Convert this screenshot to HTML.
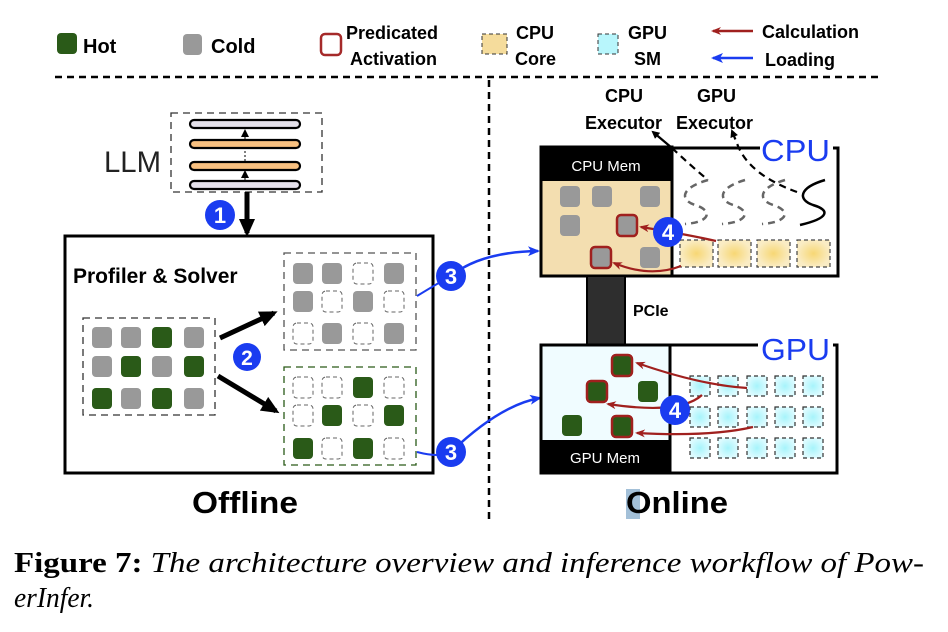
<!DOCTYPE html>
<html><head><meta charset="utf-8"><style>
html,body{margin:0;padding:0;background:#fff;}
svg{display:block;}
.b{font-family:"Liberation Sans",sans-serif;font-weight:bold;}
</style></head><body>
<svg width="948" height="632" viewBox="0 0 948 632" xmlns="http://www.w3.org/2000/svg">
<defs>
<marker id="ak" markerWidth="8" markerHeight="8" refX="6" refY="4" orient="auto" markerUnits="userSpaceOnUse"><path d="M0,0 L8,4 L0,8 Z" fill="#000"/></marker>
<marker id="akb" markerWidth="18" markerHeight="16" refX="14" refY="8" orient="auto" markerUnits="userSpaceOnUse"><path d="M0,0 L18,8 L0,16 Z" fill="#000"/></marker>
<marker id="ar" markerWidth="10" markerHeight="8" refX="8" refY="4" orient="auto" markerUnits="userSpaceOnUse"><path d="M0,0 L10,4 L0,8 L3,4 Z" fill="#a0201e"/></marker>
<marker id="ab" markerWidth="12" markerHeight="10" refX="10" refY="5" orient="auto" markerUnits="userSpaceOnUse"><path d="M0,0 L12,5 L0,10 L3,5 Z" fill="#1a3cf0"/></marker>
<radialGradient id="gy"><stop offset="0" stop-color="#f7d774"/><stop offset="1" stop-color="#faecc4"/></radialGradient>
<radialGradient id="gc"><stop offset="0" stop-color="#a6f4fb"/><stop offset="1" stop-color="#dcfbff"/></radialGradient>
</defs>

<!-- legend -->
<rect x="57" y="33" width="20" height="21" rx="4" fill="#2a5a18"/>
<text x="83" y="53" class="b" font-size="20">Hot</text>
<rect x="183" y="34" width="19" height="21" rx="4" fill="#999"/>
<text x="211" y="53" class="b" font-size="20">Cold</text>
<rect x="321" y="34" width="20" height="21" rx="4" fill="#fff" stroke="#a52a2a" stroke-width="2.5"/>
<text x="346" y="39" class="b" font-size="18">Predicated</text>
<text x="350" y="65" class="b" font-size="18">Activation</text>
<rect x="482" y="34" width="25" height="20" fill="#f5dc9c" stroke="#333" stroke-dasharray="4,3"/>
<text x="516" y="39" class="b" font-size="18">CPU</text>
<text x="515" y="65" class="b" font-size="18">Core</text>
<rect x="598" y="34" width="20" height="20" fill="#b8f6fc" stroke="#333" stroke-dasharray="4,3"/>
<text x="628" y="39" class="b" font-size="18">GPU</text>
<text x="634" y="65" class="b" font-size="18">SM</text>
<line x1="753" y1="31" x2="713" y2="31" stroke="#a0201e" stroke-width="2.5" marker-end="url(#ar)"/>
<text x="762" y="38" class="b" font-size="18">Calculation</text>
<line x1="753" y1="58" x2="713" y2="58" stroke="#1a3cf0" stroke-width="2.5" marker-end="url(#ab)"/>
<text x="765" y="66" class="b" font-size="18">Loading</text>

<line x1="55" y1="77" x2="882" y2="77" stroke="#000" stroke-width="2.5" stroke-dasharray="7,5"/>
<line x1="489" y1="80" x2="489" y2="522" stroke="#000" stroke-width="2.5" stroke-dasharray="7,5"/>

<!-- LLM -->
<text x="104" y="172" font-family="Liberation Sans,sans-serif" font-size="30" fill="#222" textLength="57" lengthAdjust="spacingAndGlyphs">LLM</text>
<rect x="171" y="113" width="151" height="79" fill="none" stroke="#333" stroke-dasharray="7,5" stroke-width="1.3"/>
<rect x="190" y="120" width="110" height="8" rx="4" fill="#e4e0ea" stroke="#000" stroke-width="2.2"/>
<rect x="190" y="140" width="110" height="8" rx="4" fill="#f8c080" stroke="#000" stroke-width="2.2"/>
<rect x="190" y="162" width="110" height="8" rx="4" fill="#f8c080" stroke="#000" stroke-width="2.2"/>
<rect x="190" y="181" width="110" height="8" rx="4" fill="#e4e0ea" stroke="#000" stroke-width="2.2"/>
<line x1="245" y1="140" x2="245" y2="131" stroke="#000" stroke-width="1" marker-end="url(#ak)"/>
<line x1="245" y1="161" x2="245" y2="151" stroke="#000" stroke-width="1" stroke-dasharray="2,2"/>
<line x1="245" y1="180" x2="245" y2="172" stroke="#000" stroke-width="1" marker-end="url(#ak)"/>
<line x1="247" y1="192" x2="247" y2="233" stroke="#000" stroke-width="5" marker-end="url(#akb)"/>
<circle cx="220" cy="215" r="15" fill="#1a3cf0"/><text x="220" y="223" text-anchor="middle" class="b" font-size="22" fill="#fff">1</text>

<!-- Profiler -->
<rect x="65" y="236" width="368" height="237" fill="none" stroke="#000" stroke-width="3"/>
<text x="73" y="283" class="b" font-size="21">Profiler &amp; Solver</text>
<rect x="83" y="318" width="132" height="97" fill="none" stroke="#333" stroke-dasharray="7,5" stroke-width="1.3"/>
<rect x="284" y="253" width="132" height="97" fill="none" stroke="#555" stroke-dasharray="7,5" stroke-width="1.3"/>
<rect x="284" y="367" width="132" height="98" fill="none" stroke="#2a5a18" stroke-dasharray="7,5" stroke-width="1.3"/>
<line x1="220" y1="338" x2="274" y2="313" stroke="#000" stroke-width="5" marker-end="url(#akb)"/>
<line x1="218" y1="376" x2="276" y2="411" stroke="#000" stroke-width="5" marker-end="url(#akb)"/>
<circle cx="247" cy="357" r="14" fill="#1a3cf0"/><text x="247" y="365" text-anchor="middle" class="b" font-size="21" fill="#fff">2</text>

<!-- blue loading -->
<path d="M417,296 Q440,282 451,276" stroke="#1a3cf0" stroke-width="2" fill="none"/>
<path d="M451,276 Q480,252 538,251" stroke="#1a3cf0" stroke-width="2.5" fill="none" marker-end="url(#ab)"/>
<path d="M417,452 Q440,458 451,452" stroke="#1a3cf0" stroke-width="2" fill="none"/>
<path d="M451,452 Q500,405 540,398" stroke="#1a3cf0" stroke-width="2.5" fill="none" marker-end="url(#ab)"/>
<circle cx="451" cy="276" r="15" fill="#1a3cf0"/><text x="451" y="284" text-anchor="middle" class="b" font-size="22" fill="#fff">3</text>
<circle cx="451" cy="452" r="15" fill="#1a3cf0"/><text x="451" y="460" text-anchor="middle" class="b" font-size="22" fill="#fff">3</text>

<!-- Executors -->
<text x="605" y="102" class="b" font-size="18">CPU</text>
<text x="697" y="102" class="b" font-size="18">GPU</text>
<text x="585" y="129" class="b" font-size="18">Executor</text>
<text x="676" y="129" class="b" font-size="18">Executor</text>

<!-- CPU right box -->
<path d="M672,148 L760,148 M833,148 L838,148 L838,276 L672,276" stroke="#000" stroke-width="3" fill="none"/>
<text x="761" y="161" font-family="Liberation Sans,sans-serif" font-size="31" fill="#1a3cf0" textLength="69" lengthAdjust="spacingAndGlyphs">CPU</text>
<path d="M672,148 Q690,165 708,180" stroke="#000" stroke-width="2.2" stroke-dasharray="7,5" fill="none"/>
<line x1="672" y1="148" x2="653" y2="132" stroke="#000" stroke-width="2.2" marker-end="url(#ak)"/>
<path d="M797,192 Q750,175 738,146 L732,131" stroke="#000" stroke-width="2.2" stroke-dasharray="7,5" fill="none" marker-end="url(#ak)"/>
<g fill="none" stroke="#666" stroke-width="2.5" stroke-dasharray="7,5">
<path d="M708,180 C680,188 680,200 695,205 C712,210 712,222 685,224"/>
<path d="M745,180 C718,188 718,200 733,205 C750,210 750,222 722,224"/>
<path d="M785,180 C758,188 758,200 773,205 C790,210 790,222 762,224"/>
</g>
<path d="M825,180 C798,188 798,200 813,205 C830,210 830,218 800,225" fill="none" stroke="#000" stroke-width="2.5"/>
<g stroke="#444" stroke-dasharray="4,3" stroke-width="1.2" fill="url(#gy)">
<rect x="680" y="240" width="33" height="27"/><rect x="718" y="240" width="33" height="27"/><rect x="757" y="240" width="33" height="27"/><rect x="797" y="240" width="33" height="27"/>
</g>

<!-- CPU Mem -->
<rect x="541" y="147" width="131" height="129" fill="#f3deb0" stroke="#000" stroke-width="3"/>
<rect x="541" y="147" width="131" height="34" fill="#000"/>
<text x="606" y="171" text-anchor="middle" font-family="Liberation Sans,sans-serif" font-size="15" fill="#fff">CPU Mem</text>
<g fill="#999">
<rect x="560" y="186" width="20" height="21" rx="4"/><rect x="592" y="186" width="20" height="21" rx="4"/><rect x="640" y="186" width="20" height="21" rx="4"/>
<rect x="560" y="215" width="20" height="21" rx="4"/><rect x="640" y="247" width="20" height="21" rx="4"/>
</g>
<rect x="617" y="215" width="20" height="21" rx="4" fill="#999" stroke="#a0201e" stroke-width="2.5"/>
<rect x="591" y="247" width="20" height="21" rx="4" fill="#999" stroke="#a0201e" stroke-width="2.5"/>
<path d="M716,241 Q690,235 641,227" stroke="#a0201e" stroke-width="2.2" fill="none" marker-end="url(#ar)"/>
<path d="M681,266 Q650,278 614,263" stroke="#a0201e" stroke-width="2.2" fill="none" marker-end="url(#ar)"/>
<circle cx="668" cy="232" r="15" fill="#1a3cf0"/><text x="668" y="240" text-anchor="middle" class="b" font-size="22" fill="#fff">4</text>

<!-- PCIe -->
<rect x="587" y="276" width="38" height="69" fill="#2e2e2e" stroke="#000" stroke-width="2"/>
<text x="633" y="316" class="b" font-size="16">PCIe</text>

<!-- GPU right -->
<path d="M670,345 L758,345 M833,345 L837,345 L837,473 L670,473" stroke="#000" stroke-width="3" fill="none"/>
<text x="761" y="360" font-family="Liberation Sans,sans-serif" font-size="31" fill="#1a3cf0" textLength="69" lengthAdjust="spacingAndGlyphs">GPU</text>
<g stroke="#333" stroke-dasharray="4,3" stroke-width="1.2" fill="url(#gc)">
<rect x="690" y="376" width="20" height="20"/><rect x="718" y="376" width="20" height="20"/><rect x="747" y="376" width="20" height="20"/><rect x="775" y="376" width="20" height="20"/><rect x="803" y="376" width="20" height="20"/>
<rect x="690" y="407" width="20" height="20"/><rect x="718" y="407" width="20" height="20"/><rect x="747" y="407" width="20" height="20"/><rect x="775" y="407" width="20" height="20"/><rect x="803" y="407" width="20" height="20"/>
<rect x="690" y="438" width="20" height="20"/><rect x="718" y="438" width="20" height="20"/><rect x="747" y="438" width="20" height="20"/><rect x="775" y="438" width="20" height="20"/><rect x="803" y="438" width="20" height="20"/>
</g>

<!-- GPU Mem -->
<rect x="541" y="345" width="129" height="128" fill="#f0fcff" stroke="#000" stroke-width="3"/>
<rect x="541" y="440" width="129" height="33" fill="#000"/>
<text x="605" y="463" text-anchor="middle" font-family="Liberation Sans,sans-serif" font-size="15" fill="#fff">GPU Mem</text>
<g fill="#2a5a18">
<rect x="638" y="381" width="20" height="21" rx="4"/><rect x="562" y="415" width="20" height="21" rx="4"/>
</g>
<g fill="#2a5a18" stroke="#a0201e" stroke-width="2.5">
<rect x="612" y="355" width="20" height="21" rx="4"/><rect x="587" y="381" width="20" height="21" rx="4"/><rect x="612" y="416" width="20" height="21" rx="4"/>
</g>
<path d="M747,388 Q700,385 637,363" stroke="#a0201e" stroke-width="2.2" fill="none" marker-end="url(#ar)"/>
<path d="M702,395 Q680,415 608,404" stroke="#a0201e" stroke-width="2.2" fill="none" marker-end="url(#ar)"/>
<path d="M753,427 Q710,437 637,433" stroke="#a0201e" stroke-width="2.2" fill="none" marker-end="url(#ar)"/>
<circle cx="675" cy="410" r="15" fill="#1a3cf0"/><text x="675" y="418" text-anchor="middle" class="b" font-size="22" fill="#fff">4</text>

<!-- section titles -->
<text x="245" y="513" text-anchor="middle" class="b" font-size="31" textLength="106" lengthAdjust="spacingAndGlyphs">Offline</text>
<rect x="626" y="489" width="14" height="30" fill="#a3c0d8"/>
<text x="626" y="513" class="b" font-size="31" textLength="102" lengthAdjust="spacingAndGlyphs">Online</text>

<!-- caption -->
<text x="14" y="572" font-family="Liberation Serif,serif" font-size="28" textLength="910" lengthAdjust="spacingAndGlyphs"><tspan font-weight="bold">Figure 7:</tspan><tspan font-style="italic"> The architecture overview and inference workflow of Pow-</tspan></text>
<text x="14" y="607" font-family="Liberation Serif,serif" font-size="28" font-style="italic" textLength="80" lengthAdjust="spacingAndGlyphs">erInfer.</text>

<!-- grid cells -->
<g>
<rect x="92" y="327" width="20" height="21" rx="4" fill="#999"/>
<rect x="121" y="327" width="20" height="21" rx="4" fill="#999"/>
<rect x="152" y="327" width="20" height="21" rx="4" fill="#2a5a18"/>
<rect x="184" y="327" width="20" height="21" rx="4" fill="#999"/>
<rect x="92" y="356" width="20" height="21" rx="4" fill="#999"/>
<rect x="121" y="356" width="20" height="21" rx="4" fill="#2a5a18"/>
<rect x="152" y="356" width="20" height="21" rx="4" fill="#999"/>
<rect x="184" y="356" width="20" height="21" rx="4" fill="#2a5a18"/>
<rect x="92" y="388" width="20" height="21" rx="4" fill="#2a5a18"/>
<rect x="121" y="388" width="20" height="21" rx="4" fill="#999"/>
<rect x="152" y="388" width="20" height="21" rx="4" fill="#2a5a18"/>
<rect x="184" y="388" width="20" height="21" rx="4" fill="#999"/>
<rect x="293" y="263" width="20" height="21" rx="4" fill="#999"/>
<rect x="322" y="263" width="20" height="21" rx="4" fill="#999"/>
<rect x="353" y="263" width="20" height="21" rx="4" fill="none" stroke="#666" stroke-dasharray="4,3"/>
<rect x="384" y="263" width="20" height="21" rx="4" fill="#999"/>
<rect x="293" y="291" width="20" height="21" rx="4" fill="#999"/>
<rect x="322" y="291" width="20" height="21" rx="4" fill="none" stroke="#666" stroke-dasharray="4,3"/>
<rect x="353" y="291" width="20" height="21" rx="4" fill="#999"/>
<rect x="384" y="291" width="20" height="21" rx="4" fill="none" stroke="#666" stroke-dasharray="4,3"/>
<rect x="293" y="323" width="20" height="21" rx="4" fill="none" stroke="#666" stroke-dasharray="4,3"/>
<rect x="322" y="323" width="20" height="21" rx="4" fill="#999"/>
<rect x="353" y="323" width="20" height="21" rx="4" fill="none" stroke="#666" stroke-dasharray="4,3"/>
<rect x="384" y="323" width="20" height="21" rx="4" fill="#999"/>
<rect x="293" y="377" width="20" height="21" rx="4" fill="none" stroke="#666" stroke-dasharray="4,3"/>
<rect x="322" y="377" width="20" height="21" rx="4" fill="none" stroke="#666" stroke-dasharray="4,3"/>
<rect x="353" y="377" width="20" height="21" rx="4" fill="#2a5a18"/>
<rect x="384" y="377" width="20" height="21" rx="4" fill="none" stroke="#666" stroke-dasharray="4,3"/>
<rect x="293" y="405" width="20" height="21" rx="4" fill="none" stroke="#666" stroke-dasharray="4,3"/>
<rect x="322" y="405" width="20" height="21" rx="4" fill="#2a5a18"/>
<rect x="353" y="405" width="20" height="21" rx="4" fill="none" stroke="#666" stroke-dasharray="4,3"/>
<rect x="384" y="405" width="20" height="21" rx="4" fill="#2a5a18"/>
<rect x="293" y="438" width="20" height="21" rx="4" fill="#2a5a18"/>
<rect x="322" y="438" width="20" height="21" rx="4" fill="none" stroke="#666" stroke-dasharray="4,3"/>
<rect x="353" y="438" width="20" height="21" rx="4" fill="#2a5a18"/>
<rect x="384" y="438" width="20" height="21" rx="4" fill="none" stroke="#666" stroke-dasharray="4,3"/>
</g>
</svg>
</body></html>
